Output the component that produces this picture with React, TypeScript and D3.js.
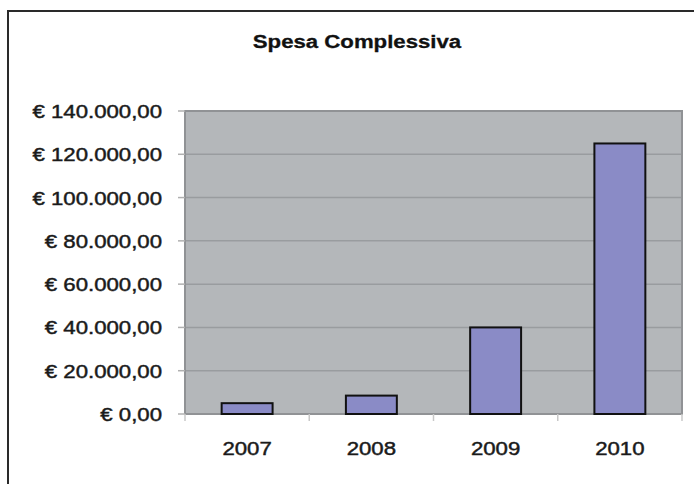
import React from "react";
import * as d3 from "d3";

const years: string[] = ["2007", "2008", "2009", "2010"];
const spesa: number[] = [5000, 8500, 40000, 125000];
const yTicks: number[] = [0, 20000, 40000, 60000, 80000, 100000, 120000, 140000];
const title = "Spesa Complessiva";

const W = 694;
const H = 484;
const plot = { left: 185, right: 682, top: 111, bottom: 414 };
const FONT = "'Liberation Sans', Arial, Helvetica, sans-serif";
const FS = 18.5;
const SX = 1.2;

const fmt = (v: number) => {
  const s = d3.format(",.2f")(v); // 140,000.00
  return "€ " + s.replace(/,/g, "#").replace(".", ",").replace(/#/g, ".");
};

export default function App() {
  const y = d3.scaleLinear().domain([0, 140000]).range([plot.bottom, plot.top]);
  const x = d3
    .scaleBand<string>()
    .domain(years)
    .range([plot.left, plot.right])
    .paddingInner(0.59)
    .paddingOuter(0.295);
  const step = (plot.right - plot.left) / years.length;
  const catEdges = d3.range(years.length + 1).map((i) => plot.left + i * step);

  return (
    <svg
      width={W}
      height={H}
      style={{ position: "absolute", left: 0, top: 0, display: "block", background: "#fff" }}
    >
      {/* outer frame (cut off at right and bottom) */}
      <rect x={8} y={11} width={W + 20} height={H + 20} fill="#fff" stroke="#2a2a2a" strokeWidth={2} />

      {/* title */}
      <text
        transform={`translate(357,48) scale(${SX},1)`}
        textAnchor="middle"
        fontFamily={FONT}
        fontWeight="bold"
        fontSize={FS}
        fill="#111"
        stroke="#111"
        strokeWidth={0.3}
      >
        {title}
      </text>

      {/* plot area */}
      <rect
        x={plot.left}
        y={plot.top}
        width={plot.right - plot.left}
        height={plot.bottom - plot.top}
        fill="#b4b7ba"
      />
      {yTicks.slice(1).map((t) => (
        <line key={"g" + t} x1={plot.left} x2={plot.right} y1={y(t)} y2={y(t)} stroke="#999c9f" strokeWidth={1.5} />
      ))}
      <rect
        x={plot.left}
        y={plot.top}
        width={plot.right - plot.left}
        height={plot.bottom - plot.top}
        fill="none"
        stroke="#909295"
        strokeWidth={2}
      />

      {/* y ticks & labels */}
      {yTicks.map((t) => (
        <g key={"y" + t}>
          <line x1={178} x2={plot.left} y1={y(t)} y2={y(t)} stroke="#b0b0b0" strokeWidth={1.5} />
          <text
            transform={`translate(162,${y(t) + 7}) scale(${SX},1)`}
            textAnchor="end"
            fontFamily={FONT}
            fontSize={FS}
            fill="#1a1a1a"
            stroke="#1a1a1a"
            strokeWidth={0.45}
          >
            {fmt(t)}
          </text>
        </g>
      ))}

      {/* x ticks */}
      {catEdges.map((cx, i) => (
        <line key={"xt" + i} x1={cx} x2={cx} y1={plot.bottom} y2={plot.bottom + 7} stroke="#c8c8c8" strokeWidth={1.5} />
      ))}

      {/* bars */}
      {years.map((yr, i) => (
        <rect
          key={yr}
          x={x(yr)}
          y={y(spesa[i])}
          width={x.bandwidth()}
          height={plot.bottom - y(spesa[i])}
          fill="#8a8bc6"
          stroke="#111"
          strokeWidth={2}
        />
      ))}

      {/* x labels */}
      {years.map((yr) => (
        <text
          key={"xl" + yr}
          transform={`translate(${(x(yr) as number) + x.bandwidth() / 2},455) scale(${SX},1)`}
          textAnchor="middle"
          fontFamily={FONT}
          fontSize={FS}
          fill="#1a1a1a"
          stroke="#1a1a1a"
          strokeWidth={0.45}
        >
          {yr}
        </text>
      ))}
    </svg>
  );
}
